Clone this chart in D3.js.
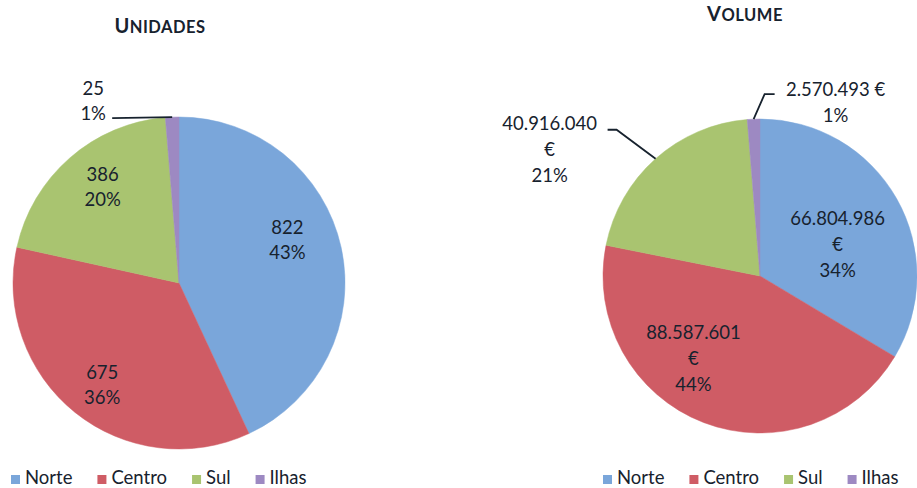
<!DOCTYPE html>
<html>
<head>
<meta charset="utf-8">
<script src="https://cdn.jsdelivr.net/npm/d3@7"></script>
<style>
  body { margin: 0; background: #fff; }
  svg { display: block; }
  text { font-family: Lato, "Open Sans", sans-serif; fill: #17222e; }
</style>
</head>
<body>
<svg id="chart" width="917" height="488"></svg>
<script>
// Regions and their colours
const regions = ["Norte", "Centro", "Sul", "Ilhas"];
const regionColors = ["#7aa6da", "#cf5c65", "#a9c470", "#9d89c2"];

// Units sold per region
const unidadesValues = [822, 675, 386, 25];
const unidadesPct = ["43%", "36%", "20%", "1%"];

// Volume (€) per region
const volumeValues = [66804986, 88587601, 40916040, 2570493];
const volumePct = ["34%", "44%", "21%", "1%"];

// Portuguese number format: dot as thousands separator
const ptFormat = d3.formatLocale({ decimal: ",", thousands: ".", grouping: [3], currency: ["", " €"] }).format(",d");

const svg = d3.select("#chart");
const color = d3.scaleOrdinal().domain(regions).range(regionColors);

// Layout of each pie: centre, radius, label placement
const pies = [
  {
    title: "Unidades", titleX: 160, titleY: 33,
    cx: 179, cy: 283, r: 166,
    values: unidadesValues, pct: unidadesPct,
    lines: (v, p) => [String(v), p],
    // inside labels: nudge from centroid at 0.7R; outside: leader offsets from arc edge
    place: [
      { kind: "in", dx: -5, dy: -18 },
      { kind: "in", dx: -4, dy: 11 },
      { kind: "in", dx: 0, dy: -9 },
      { kind: "out", leader: [[-60, 1]], tx: -79, ty: -17 }
    ],
    lineH: 25,
    legendX: 11
  },
  {
    title: "Volume", titleX: 745, titleY: 21,
    cx: 760, cy: 276, r: 157,
    values: volumeValues, pct: volumePct,
    lines: null,
    place: [
      { kind: "in", dx: -18, dy: 22, split: true },
      { kind: "in", dx: -27, dy: -21, split: true },
      { kind: "out", leader: [[-39, -29], [-48, -29]], tx: -106, ty: -10, split: true },
      { kind: "out", leader: [[11, -25], [21, -25]], tx: 82, ty: -17, split: false }
    ],
    lineH: 26,
    legendX: 603
  }
];

const pie = d3.pie().sort(null).value(d => d.value);

pies.forEach(cfg => {
  const g = svg.append("g").attr("transform", `translate(${cfg.cx},${cfg.cy})`);
  const data = regions.map((name, i) => ({ name, value: cfg.values[i], pct: cfg.pct[i] }));
  const arcs = pie(data);
  const arc = d3.arc().innerRadius(0).outerRadius(cfg.r);
  const inner = d3.arc().innerRadius(cfg.r * 0.7).outerRadius(cfg.r * 0.7);
  const edge = d3.arc().innerRadius(cfg.r).outerRadius(cfg.r);

  g.selectAll("path.slice").data(arcs).join("path")
    .attr("class", "slice")
    .attr("d", arc)
    .attr("fill", d => color(d.data.name))
    .attr("stroke", d => color(d.data.name))
    .attr("stroke-width", 0.5);

  arcs.forEach((a, i) => {
    const p = cfg.place[i];
    let lines;
    if (cfg.lines) lines = cfg.lines(a.data.value, a.data.pct);
    else if (p.split) lines = [ptFormat(a.data.value), "€", a.data.pct];
    else lines = [ptFormat(a.data.value) + " €", a.data.pct];

    let x, y;
    if (p.kind === "in") {
      const c = inner.centroid(a);
      x = c[0] + p.dx; y = c[1] + p.dy;
    } else {
      const e = edge.centroid(a);
      const pts = [e].concat(p.leader.map(o => [e[0] + o[0], e[1] + o[1]]));
      g.append("path")
        .attr("d", d3.line()(pts))
        .attr("fill", "none")
        .attr("stroke", "#17222e")
        .attr("stroke-width", 1.8);
      x = e[0] + p.tx; y = e[1] + p.ty;
    }
    const t = g.append("text").attr("text-anchor", "middle").style("font-size", "18.5px");
    const y0 = y - (lines.length - 1) * cfg.lineH / 2;
    lines.forEach((s, k) => {
      t.append("tspan").attr("x", x).attr("y", y0 + k * cfg.lineH)
        .attr("dominant-baseline", "central").text(s);
    });
  });

  // Title in small caps
  const title = svg.append("text")
    .attr("x", cfg.titleX).attr("y", cfg.titleY)
    .attr("text-anchor", "middle")
    .style("font-weight", "bold")
    .style("letter-spacing", "0.5px");
  const up = cfg.title.toUpperCase();
  title.append("tspan").style("font-size", "20px").text(up[0]);
  title.append("tspan").style("font-size", "16.5px").text(up.slice(1));

  // Legend
  const leg = svg.append("g").attr("transform", `translate(${cfg.legendX},475)`);
  let lx = 0;
  regions.forEach(name => {
    leg.append("rect").attr("x", lx).attr("y", 0).attr("width", 9).attr("height", 9)
      .attr("fill", color(name));
    const tx = leg.append("text").attr("x", lx + 14).attr("y", 9)
      .style("font-size", "18.5px").text(name);
    lx += 14 + tx.node().getComputedTextLength() + 25;
  });
});
</script>
</body>
</html>
